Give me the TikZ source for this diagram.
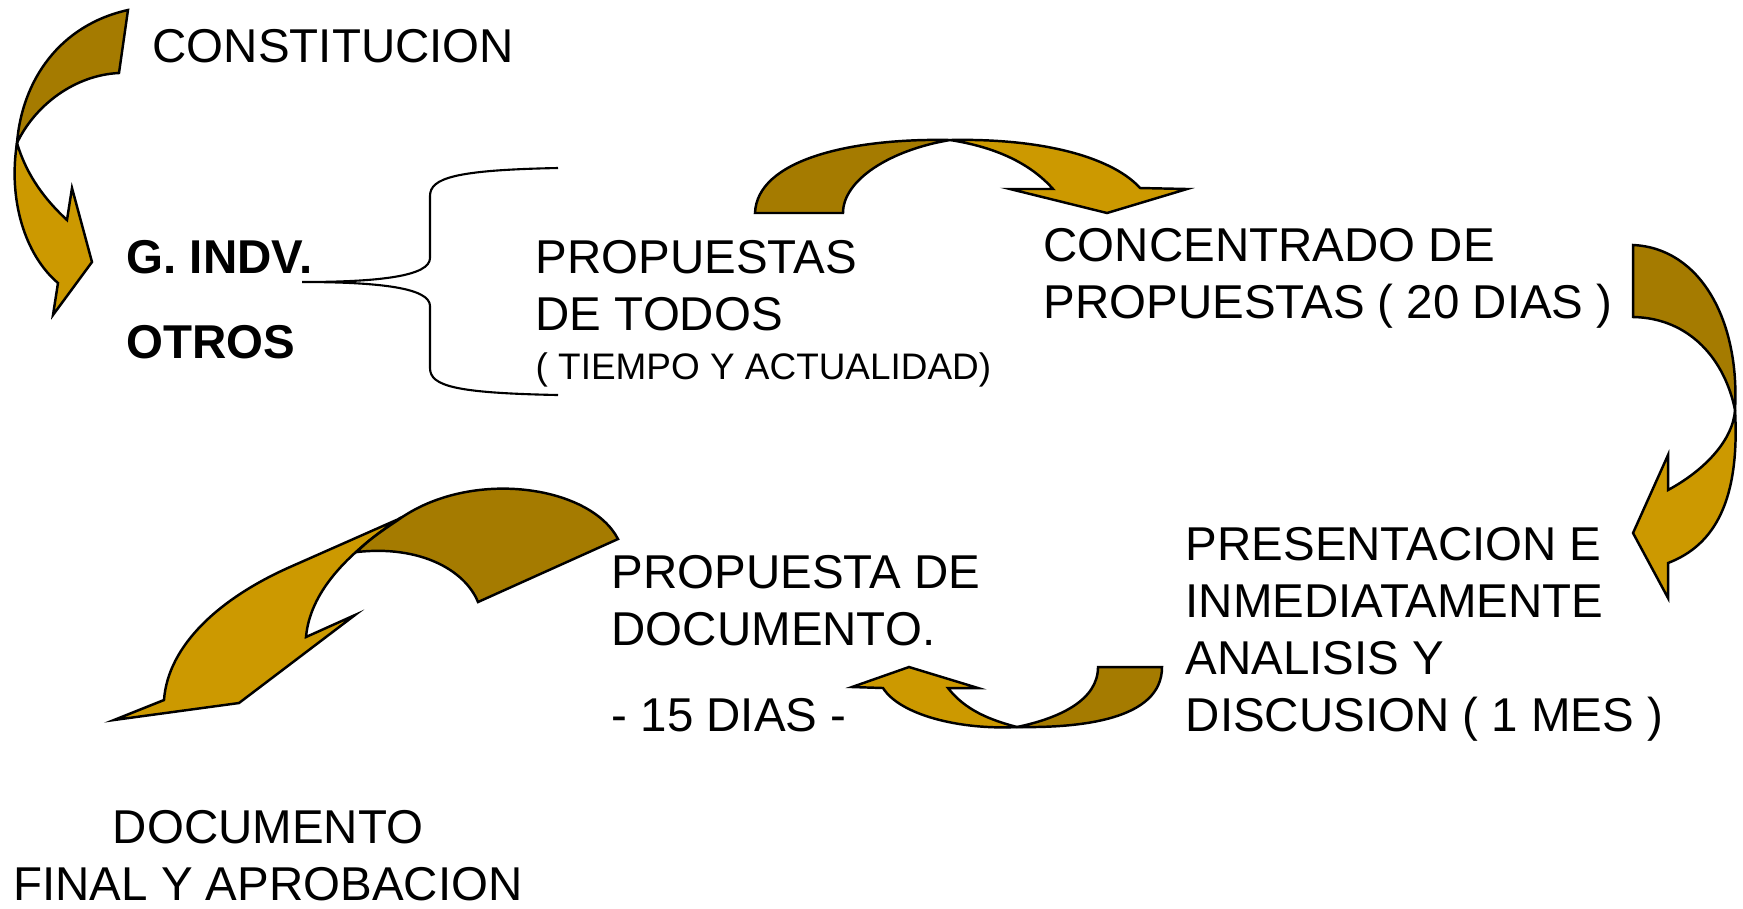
\documentclass[tikz,border=0pt]{standalone}
\usepackage{fontspec}
\setmainfont{Liberation Sans}
\usepackage{xcolor}
\definecolor{backside}{RGB}{165,123,0}
\definecolor{frontside}{RGB}{204,153,0}
\tikzstyle{txt}=[anchor=north west, inner sep=0pt, align=left, font=\fontsize{13.5}{16.2}\selectfont]
\tikzstyle{boldtxt}=[txt, font=\fontsize{13.5}{16.2}\selectfont\bfseries]
\tikzstyle{smalltxt}=[txt, font=\fontsize{10.5}{12.6}\selectfont]
\tikzstyle{back}=[fill=backside, draw=black, line width=.7pt]
\tikzstyle{front}=[fill=frontside, draw=black, line width=.7pt]
\tikzstyle{brace}=[draw=black, line width=.6pt]

\begin{document}
\begin{tikzpicture}[x=0.01cm, y=-0.01cm]
  \useasboundingbox (0,0) rectangle (1743,908);

  %% Texts
  \draw (152,29) node[txt] (constitucion) {CONSTITUCION};
  \draw (126,240) node[boldtxt] (gindv) {G. INDV.};
  \draw (126,325) node[boldtxt] (otros) {OTROS};
  \draw (535,240) node[txt] (propuestas) {PROPUESTAS\\DE TODOS};
  \draw (535,352) node[smalltxt] (tiempo) {( TIEMPO Y ACTUALIDAD)};
  \draw (1043,228) node[txt] (concentrado) {CONCENTRADO DE\\PROPUESTAS ( 20 DIAS )};
  \draw (1185,527) node[txt] (presentacion) {PRESENTACION E\\INMEDIATAMENTE\\ANALISIS Y\\DISCUSION ( 1 MES )};
  \draw (611,555) node[txt] (propdoc) {PROPUESTA DE\\DOCUMENTO.};
  \draw (611,698) node[txt] (quince) {- 15 DIAS -};
  \draw (268,810) node[txt, anchor=north, align=center] (docfinal) {DOCUMENTO\\FINAL Y APROBACION};

  %% Brace from G. INDV. to the proposals
  \coordinate (bracetip) at (302,282);
  \coordinate (bracetop) at (558,168);
  \coordinate (bracebot) at (558,395);
  \draw[brace] (bracetop) .. controls (455,170) and (430,178) .. (430,196) -- (430,258)
    .. controls (430,276) and (380,282) .. (bracetip)
    .. controls (380,282) and (430,288) .. (430,306) -- (430,368)
    .. controls (430,386) and (455,393) .. (bracebot);

  %% Curved arrow: constitucion -> gindv
  \draw[back] (128,10) .. controls (60,25) and (22,80) .. (17,143)
    .. controls (35,105) and (75,75) .. (119,73) -- cycle;
  \draw[front] (17,143) .. controls (8,200) and (25,255) .. (58,283)
    -- (53,315) -- (92,262) -- (72,188) -- (67,220)
    .. controls (40,195) and (25,170) .. (17,143) -- cycle;

  %% Curved arrow: propuestas -> concentrado
  \draw[back] (755,213) .. controls (757,160) and (850,138) .. (950,140)
    .. controls (890,150) and (843,180) .. (843,213) -- cycle;
  \draw[front] (950,140) .. controls (1050,138) and (1115,160) .. (1140,188)
    -- (1187,189) -- (1107,213) -- (1010,189) -- (1053,189)
    .. controls (1030,163) and (995,147) .. (950,140) -- cycle;

  %% Curved arrow: concentrado -> presentacion
  \draw[back] (1633,245) .. controls (1700,248) and (1740,320) .. (1735,410)
    .. controls (1725,360) and (1690,318) .. (1633,317) -- cycle;
  \draw[front] (1735,410) .. controls (1740,500) and (1715,545) .. (1668,563)
    -- (1668,598) -- (1633,533) -- (1668,455) -- (1668,490)
    .. controls (1705,470) and (1733,440) .. (1735,410) -- cycle;

  %% Curved arrow: presentacion -> propdoc
  \draw[back] (1162,667) .. controls (1162,720) and (1080,728) .. (1017,727)
    .. controls (1060,718) and (1098,700) .. (1098,667) -- cycle;
  \draw[front] (1017,727) .. controls (960,730) and (900,715) .. (883,688)
    -- (852,687) -- (909,667) -- (978,688) -- (948,688)
    .. controls (965,710) and (990,720) .. (1017,727) -- cycle;

  %% Curved arrow: propdoc -> docfinal
  \draw[front] (410,514) -- (290,567) .. controls (220,598) and (168,645) .. (164,700)
    -- (114,720) -- (239,703) -- (355,615) -- (306,637)
    .. controls (310,593) and (345,555) .. (400,518) -- cycle;
  \draw[back] (618,539) .. controls (590,485) and (470,468) .. (398,520)
    .. controls (380,532) and (366,542) .. (357,552)
    .. controls (420,545) and (465,570) .. (478,602) -- cycle;
\end{tikzpicture}
\end{document}
